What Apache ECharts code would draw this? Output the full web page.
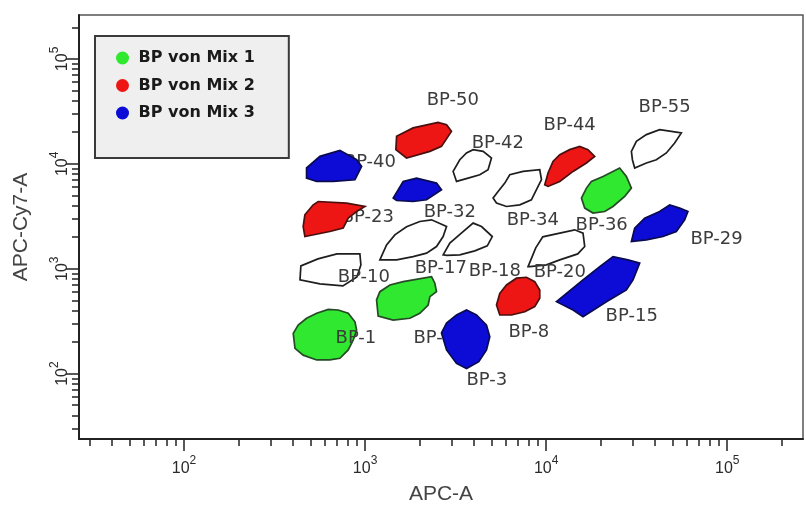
<!DOCTYPE html>
<html>
<head>
<meta charset="utf-8">
<title>BP gates</title>
<script src="https://cdn.jsdelivr.net/npm/echarts@6/dist/echarts.min.js"></script>
<style>
	html, body { margin: 0; padding: 0; background: #fff; }
	#chart { width: 806px; height: 506px; }
</style>
</head>
<body>
<div id="chart"></div>
<script>
	// axis range (APC-A / APC-Cy7-A), log scale
	var xMin = 26.3, xMax = 262144;
	var yMin = 23.8, yMax = 262144;
	var majorTicks = [100, 1000, 10000, 100000];
	var minorTicks = [30, 40, 50, 60, 70, 80, 90,
		200, 300, 400, 500, 600, 700, 800, 900,
		2000, 3000, 4000, 5000, 6000, 7000, 8000, 9000,
		20000, 30000, 40000, 50000, 60000, 70000, 80000, 90000,
		200000];

	// gates: [APC-A, APC-Cy7-A] vertices
	// Mix 1 (green)
	var bp1 = [[401,242],[427,290],[475,337],[540,376],[626,410],[710,404],[807,376],[879,312],[898,260],[860,209],[807,168],[726,140],[639,135],[540,135],[455,150],[410,174]];
	var bp17 = [[1157,504],[1207,604],[1371,700],[1623,753],[2328,841],[2428,727],[2480,604],[2280,541],[2230,451],[2006,376],[1767,337],[1429,324],[1181,354]];
	var bp36 = [[15660,4710],[16690,5870],[17780,6790],[20610,7580],[25470,9120],[27740,7580],[29570,5870],[27150,4883],[23400,3918],[21060,3510],[18150,3390],[16330,3783]];
	// Mix 2 (red)
	var bp23 = [[465,3265],[517,4065],[551,4370],[791,4225],[998,3918],[898,3510],[807,3035],[757,2437],[639,2261],[465,2026],[455,2523]];
	var bp50 = [[1493,18280],[1842,21980],[2530,24850],[2818,23620],[3000,20380],[2643,14660],[2280,13130],[1694,11350],[1479,13640]];
	var bp44 = [[9825,6310],[10240,8170],[10910,10540],[11890,12210],[13490,13640],[15320,14660],[17030,13640],[18540,11770],[16690,10180],[14080,8460],[11890,6790],[10240,6085]];
	var bp8 = [[5318,451],[5546,583],[6039,700],[6856,812],[7786,829],[8650,753],[9219,627],[9219,523],[8650,435],[7620,389],[6435,362],[5546,362]];
	// Mix 3 (blue)
	var bp40 = [[475,9120],[563,11770],[726,13430],[898,10940],[957,9440],[879,7050],[667,6790],[540,6790],[475,7310]];
	var bp40b = [[1429,4710],[1623,6790],[1924,7310],[2480,6550],[2643,5660],[2185,4540],[1842,4370],[1493,4470]];
	var bp3 = [[2643,244],[2818,304],[3199,362],[3632,404],[4123,362],[4683,290],[4883,225],[4683,168],[4246,130],[3632,112],[3199,125],[2818,168]];
	var bp15 = [[11400,485],[15980,782],[19770,1048],[23400,1305],[28300,1213],[32860,1129],[30180,782],[27740,627],[21520,485],[15980,349],[14080,404]];
	var bp29 = [[29570,1815],[30830,2437],[35000,3035],[42360,3510],[48100,4065],[54610,3783],[60670,3510],[58210,2924],[52360,2261],[44170,2026],[35770,1884]];
	// other gates (open)
	var bp10 = [[437,782],[442,1064],[549,1241],[699,1384],[936,1384],[948,1087],[901,835],[754,685],[563,716]];
	var bp32 = [[1207,1213],[1314,1688],[1460,2103],[1694,2508],[2006,2818],[2328,2924],[2818,2523],[2698,2026],[2480,1626],[2185,1406],[1842,1305],[1493,1213]];
	var bp18 = [[2698,1355],[2938,1752],[3477,2261],[3950,2721],[4395,2523],[5040,2026],[4730,1651],[4036,1479],[3335,1355],[2830,1340]];
	var bp42 = [[3063,8460],[3335,10940],[3632,12680],[3950,13640],[4486,13130],[4990,11350],[4777,8780],[4300,7870],[3707,7310],[3199,6790]];
	var bp34 = [[5093,4710],[5427,5450],[5910,6550],[6296,7870],[7460,8460],[9219,8780],[9422,7050],[8840,5660],[8290,4540],[7150,4065],[6039,3918],[5318,4225]];
	var bp20 = [[7945,1048],[8760,1580],[9580,2012],[11890,2183],[14380,2348],[15980,2183],[16330,1626],[14940,1384],[11890,1213],[10040,1087],[8120,1048]];
	var bp55 = [[29570,13130],[31500,16370],[35770,18970],[42360,21170],[49150,20380],[55800,19690],[51250,15800],[46130,12680],[40610,10940],[35770,10180],[30830,9120],[29950,10940]];

	var mix1Gates = [bp1, bp17, bp36];
	var mix2Gates = [bp23, bp50, bp44, bp8];
	var mix3Gates = [bp40, bp40b, bp3, bp15, bp29];
	var openGates = [bp10, bp32, bp18, bp42, bp34, bp20, bp55];

	// gate names and where they sit
	var labelNames = ['BP-50','BP-42','BP-44','BP-55','BP-40','BP-32','BP-34','BP-36','BP-23','BP-29','BP-10','BP-17','BP-18','BP-20','BP-8','BP-15','BP-1','BP-6','BP-3'];
	var labelX = [3050, 5410, 13490, 45130, 1063, 2938, 8435, 20270, 1036, 87400, 985, 2620, 5200, 11890, 8020, 29690, 890, 2397, 4700];
	var labelY = [40000, 15560, 23120, 34350, 10240, 3412, 2861, 2564, 3055, 1926, 835, 1018, 953, 932, 249, 354, 218, 218, 86.7];

	var myChart = echarts.init(document.getElementById('chart'), null, { renderer: 'canvas' });

	function gateRenderer(gates, fill, stroke) {
		return function (params, api) {
			var pts = gates[params.dataIndex].map(function (p) {
				return api.coord(p);
			});
			return {
				type: 'polygon',
				shape: { points: pts },
				style: { fill: fill, stroke: stroke, lineWidth: 1.7 }
			};
		};
	}

	function gateSeries(name, gates, fill, stroke, z) {
		return {
			type: 'custom',
			name: name,
			z: z,
			silent: true,
			itemStyle: { color: fill },
			renderItem: gateRenderer(gates, fill, stroke),
			data: gates.map(function (g) { return g[0]; })
		};
	}

	function powLabel(v) {
		var e = Math.round(Math.log(v) / Math.LN10);
		return '{b|10}{e|' + e + '}';
	}
	var powRich = {
		b: { fontSize: 16, lineHeight: 22, verticalAlign: 'bottom', color: '#2a2a2a', fontFamily: 'Liberation Sans' },
		e: { fontSize: 12, lineHeight: 22, verticalAlign: 'top', color: '#2a2a2a', fontFamily: 'Liberation Sans' }
	};

	var axisLineStyle = { color: '#222', width: 2 };
	var tickStyle = { color: '#222', width: 1.5 };

	var option = {
		backgroundColor: '#fff',
		animation: false,
		grid: {
			left: 79, right: 3, top: 15, bottom: 67,
			show: true,
			borderColor: '#555',
			borderWidth: 1.5,
			outerBoundsMode: 'none'
		},
		legend: {
			left: 95,
			top: 36,
			orient: 'vertical',
			data: ['BP von Mix 1', 'BP von Mix 2', 'BP von Mix 3'],
			icon: 'circle',
			itemWidth: 22,
			itemHeight: 13,
			itemGap: 11.5,
			padding: [14, 34, 37, 21],
			backgroundColor: '#efefef',
			borderColor: '#3a3a3a',
			borderWidth: 2,
			itemStyle: { borderWidth: 0 },
			textStyle: {
				fontFamily: 'DejaVu Sans',
				fontWeight: 'bold',
				fontSize: 16,
				lineHeight: 16,
				color: '#1a1a1a'
			}
		},
		xAxis: [{
			type: 'log',
			min: xMin,
			max: xMax,
			position: 'bottom',
			splitLine: { show: false },
			axisLine: { lineStyle: axisLineStyle },
			axisTick: { customValues: majorTicks, length: 12, lineStyle: tickStyle },
			axisLabel: { customValues: majorTicks, formatter: powLabel, rich: powRich, margin: 16 },
			name: 'APC-A',
			nameLocation: 'middle',
			nameGap: 45,
			nameTextStyle: { fontFamily: 'Liberation Sans', fontSize: 21, color: '#444' }
		}, {
			type: 'log',
			min: xMin,
			max: xMax,
			position: 'bottom',
			splitLine: { show: false },
			axisLine: { show: false },
			axisTick: { customValues: minorTicks, length: 7, lineStyle: tickStyle },
			axisLabel: { show: false }
		}],
		yAxis: [{
			type: 'log',
			min: yMin,
			max: yMax,
			position: 'left',
			splitLine: { show: false },
			axisLine: { lineStyle: axisLineStyle },
			axisTick: { customValues: majorTicks, length: 13, lineStyle: tickStyle },
			axisLabel: { customValues: majorTicks, formatter: powLabel, rich: powRich, rotate: 90, margin: 8 },
			name: 'APC-Cy7-A',
			nameLocation: 'middle',
			nameGap: 47,
			nameTextStyle: { fontFamily: 'Liberation Sans', fontSize: 21, color: '#444' }
		}, {
			type: 'log',
			min: yMin,
			max: yMax,
			position: 'left',
			splitLine: { show: false },
			axisLine: { show: false },
			axisTick: { customValues: minorTicks, length: 7, lineStyle: tickStyle },
			axisLabel: { show: false }
		}],
		series: [
			gateSeries('open', openGates, 'rgba(255,255,255,0)', '#1e1e1e', 2),
			gateSeries('BP von Mix 1', mix1Gates, '#2fe82f', '#254a25', 2),
			{
				type: 'custom',
				name: 'labels',
				z: 3,
				silent: true,
				renderItem: function (params, api) {
					var p = api.coord([api.value(0), api.value(1)]);
					return {
						type: 'text',
						x: p[0],
						y: p[1],
						style: {
							text: labelNames[params.dataIndex],
							align: 'center',
							verticalAlign: 'middle',
							fill: '#3c3c3c',
							fontSize: 18,
							fontFamily: 'DejaVu Sans'
						}
					};
				},
				data: labelX.map(function (x, i) { return [x, labelY[i]]; })
			},
			gateSeries('BP von Mix 2', mix2Gates, '#ee1515', '#4a1010', 4),
			gateSeries('BP von Mix 3', mix3Gates, '#0c0cd6', '#0a0a50', 4)
		]
	};
	myChart.setOption(option);
</script>
</body>
</html>
